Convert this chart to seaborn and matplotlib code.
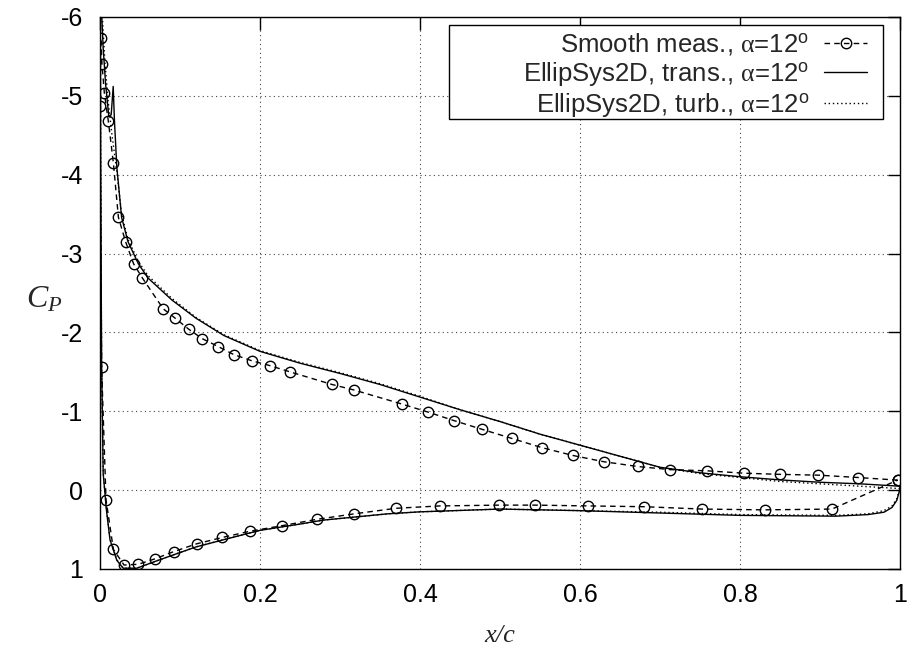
import numpy as np
import pandas as pd
import matplotlib
matplotlib.use("Agg")
import matplotlib.pyplot as plt
from matplotlib.patches import Rectangle
import seaborn as sns

# ---- measured data (surface order: TE -> upper -> LE -> lower -> TE) ----
meas_x = [0.997, 0.948, 0.898, 0.850, 0.805, 0.759, 0.713, 0.672, 0.630, 0.591,
          0.552, 0.515, 0.478, 0.443, 0.410, 0.378, 0.3175, 0.290, 0.2375, 0.212,
          0.190, 0.167, 0.148, 0.128, 0.111, 0.094, 0.079, 0.053, 0.042, 0.032,
          0.023, 0.0167, 0.0104, 0.0054, 0.0025, 0.001, 0.0, 0.002,
          0.0075, 0.0167, 0.030, 0.048, 0.069, 0.092, 0.121, 0.153, 0.188, 0.228,
          0.271, 0.318, 0.370, 0.425, 0.499, 0.544, 0.610, 0.680, 0.753, 0.831,
          0.915, 0.997]
meas_cp = [-0.127, -0.16, -0.19, -0.20, -0.215, -0.245, -0.26, -0.30, -0.36, -0.44,
           -0.54, -0.655, -0.77, -0.88, -0.99, -1.09, -1.27, -1.34, -1.50, -1.58,
           -1.64, -1.72, -1.82, -1.92, -2.04, -2.18, -2.30, -2.69, -2.87, -3.15,
           -3.46, -4.15, -4.68, -5.04, -5.40, -5.73, -4.87, -1.56,
           0.12, 0.75, 0.95, 0.94, 0.87, 0.78, 0.68, 0.60, 0.52, 0.45,
           0.37, 0.30, 0.23, 0.20, 0.19, 0.19, 0.20, 0.21, 0.24, 0.25,
           0.24, -0.127]

# ---- EllipSys2D transitional ----
trans_x = [1.0, 0.95, 0.90, 0.85, 0.80, 0.75, 0.70, 0.65, 0.60, 0.55,
           0.50, 0.45, 0.40, 0.35, 0.30, 0.25, 0.20, 0.155, 0.12, 0.09,
           0.060, 0.048, 0.035, 0.027, 0.021, 0.018, 0.0165, 0.014, 0.011, 0.007,
           0.004, 0.002, 0.0008, 0.0003,
           0.0008, 0.002, 0.004, 0.008, 0.0125, 0.021, 0.029, 0.046, 0.070, 0.092,
           0.12, 0.154, 0.20, 0.25, 0.279, 0.36, 0.40, 0.50, 0.60, 0.70,
           0.80, 0.92, 0.96, 0.98, 0.99, 0.996, 0.999, 1.0]
trans_cp = [-0.05, -0.08, -0.10, -0.13, -0.17, -0.22, -0.29, -0.43, -0.57, -0.71,
            -0.87, -1.02, -1.18, -1.34, -1.48, -1.61, -1.76, -1.96, -2.18, -2.41,
            -2.69, -2.87, -3.15, -3.46, -4.10, -4.70, -5.12, -4.76, -4.74, -5.15,
            -5.60, -6.05, -6.4, -6.6,
            -4.2, -1.6, -0.21, 0.25, 0.63, 0.89, 0.99, 0.99, 0.90, 0.82,
            0.72, 0.63, 0.51, 0.43, 0.38, 0.30, 0.275, 0.24, 0.26, 0.29,
            0.32, 0.33, 0.31, 0.28, 0.22, 0.13, 0.02, -0.05]

# ---- EllipSys2D fully turbulent ----
turb_x = [1.0, 0.95, 0.90, 0.85, 0.80, 0.75, 0.70, 0.65, 0.60, 0.55,
          0.50, 0.45, 0.40, 0.35, 0.30, 0.25, 0.20, 0.155, 0.12, 0.09,
          0.060, 0.048, 0.035, 0.027, 0.021, 0.015, 0.010, 0.006,
          0.003, 0.0015, 0.0006, 0.0002,
          0.0008, 0.002, 0.004, 0.008, 0.0125, 0.021, 0.029, 0.046, 0.070, 0.092,
          0.12, 0.154, 0.20, 0.25, 0.279, 0.36, 0.40, 0.50, 0.60, 0.70,
          0.80, 0.92, 0.96, 0.98, 0.99, 0.996, 0.999, 1.0]
turb_cp = [-0.02, -0.05, -0.08, -0.11, -0.16, -0.21, -0.29, -0.43, -0.57, -0.71,
           -0.87, -1.02, -1.19, -1.35, -1.49, -1.62, -1.77, -1.97, -2.19, -2.43,
           -2.72, -2.90, -3.18, -3.50, -4.05, -4.50, -4.95, -5.45,
           -6.0, -6.4, -6.7, -6.8,
           -4.3, -1.6, -0.22, 0.24, 0.62, 0.88, 0.99, 0.99, 0.90, 0.82,
           0.72, 0.63, 0.51, 0.43, 0.38, 0.30, 0.275, 0.24, 0.26, 0.28,
           0.31, 0.32, 0.30, 0.26, 0.20, 0.11, 0.01, -0.02]

x_ticks = [0, 0.2, 0.4, 0.6, 0.8, 1]
x_tick_labels = ["0", "0.2", "0.4", "0.6", "0.8", "1"]
y_ticks = [-6, -5, -4, -3, -2, -1, 0, 1]
y_tick_labels = ["-6", "-5", "-4", "-3", "-2", "-1", "0", "1"]

labels = [r"Smooth meas., $\mathrm{\alpha}$=12$^{\mathsf{o}}$",
          r"EllipSys2D, trans., $\mathrm{\alpha}$=12$^{\mathsf{o}}$",
          r"EllipSys2D, turb., $\mathrm{\alpha}$=12$^{\mathsf{o}}$"]

sns.set_style("white")
plt.rcParams["font.family"] = ["Liberation Sans", "DejaVu Sans"]
plt.rcParams["mathtext.fontset"] = "custom"
plt.rcParams["mathtext.rm"] = "Liberation Serif"
plt.rcParams["mathtext.it"] = "Liberation Serif:italic"
plt.rcParams["mathtext.sf"] = "Liberation Sans"
plt.rcParams["axes.unicode_minus"] = False

W, H = 907, 651
fig = plt.figure(figsize=(W / 100, H / 100), dpi=100)
ax = fig.add_axes([100 / W, 1 - 569 / H, 800 / W, 552 / H])

df_m = pd.DataFrame({"x": meas_x, "cp": meas_cp})
df_tr = pd.DataFrame({"x": trans_x, "cp": trans_cp})
df_tu = pd.DataFrame({"x": turb_x, "cp": turb_cp})

sns.lineplot(data=df_m, x="x", y="cp", sort=False, estimator=None, ax=ax,
             color="black", linewidth=1.0, linestyle=(0, (4, 3)),
             marker="o", markersize=7.5, markerfacecolor="none",
             markeredgecolor="black", markeredgewidth=1.0, label=labels[0])
sns.lineplot(data=df_tr, x="x", y="cp", sort=False, estimator=None, ax=ax,
             color="black", linewidth=1.0, linestyle="-", label=labels[1])
sns.lineplot(data=df_tu, x="x", y="cp", sort=False, estimator=None, ax=ax,
             color="black", linewidth=1.0, linestyle=(0, (1, 2)), label=labels[2])

ax.set_xlim(0, 1)
ax.set_ylim(1, -6)
ax.set_xticks(x_ticks)
ax.set_xticklabels(x_tick_labels)
ax.set_yticks(y_ticks)
ax.set_yticklabels(y_tick_labels)
ax.tick_params(direction="in", length=9, width=1, top=True, right=True,
               labelsize=18, colors="black")
ax.tick_params(axis="x", pad=10)
ax.tick_params(axis="y", pad=12)
ax.grid(True, color="#444444", linestyle=(0, (1, 3)), linewidth=0.8)
for s in ax.spines.values():
    s.set_color("black")
    s.set_linewidth(1.0)

ax.set_xlabel("x/c", family=["Liberation Serif"], style="italic", fontsize=19)
ax.xaxis.set_label_coords(0.5, (569 - 636) / 552)
ax.xaxis.label.set_va("center")
ax.set_ylabel(r"$C_P$", fontsize=23, rotation=0, ha="center", va="center")
ax.yaxis.set_label_coords((44 - 100) / 800, (569 - 300) / 552)

# legend box (white, black frame) drawn behind the legend entries
box = Rectangle(((449 - 100) / 800, (569 - 119) / 552), (883 - 449) / 800, (119 - 25) / 552,
                transform=ax.transAxes, facecolor="white", edgecolor="black",
                linewidth=1.0, zorder=4.9, clip_on=False)
ax.add_patch(box)

leg = ax.legend(loc="upper right", bbox_to_anchor=((872 - 100) / 800, (569 - 26) / 552),
                borderaxespad=0, fontsize=18.5, markerfirst=False, frameon=False,
                handlelength=1.65, handletextpad=0.6, labelspacing=0.12,
                borderpad=0.2)
leg.set_zorder(5)
for t in leg.get_texts():
    t.set_ha("right")
leg._legend_box.align = "right"

fig.savefig("out.png", dpi=100)
